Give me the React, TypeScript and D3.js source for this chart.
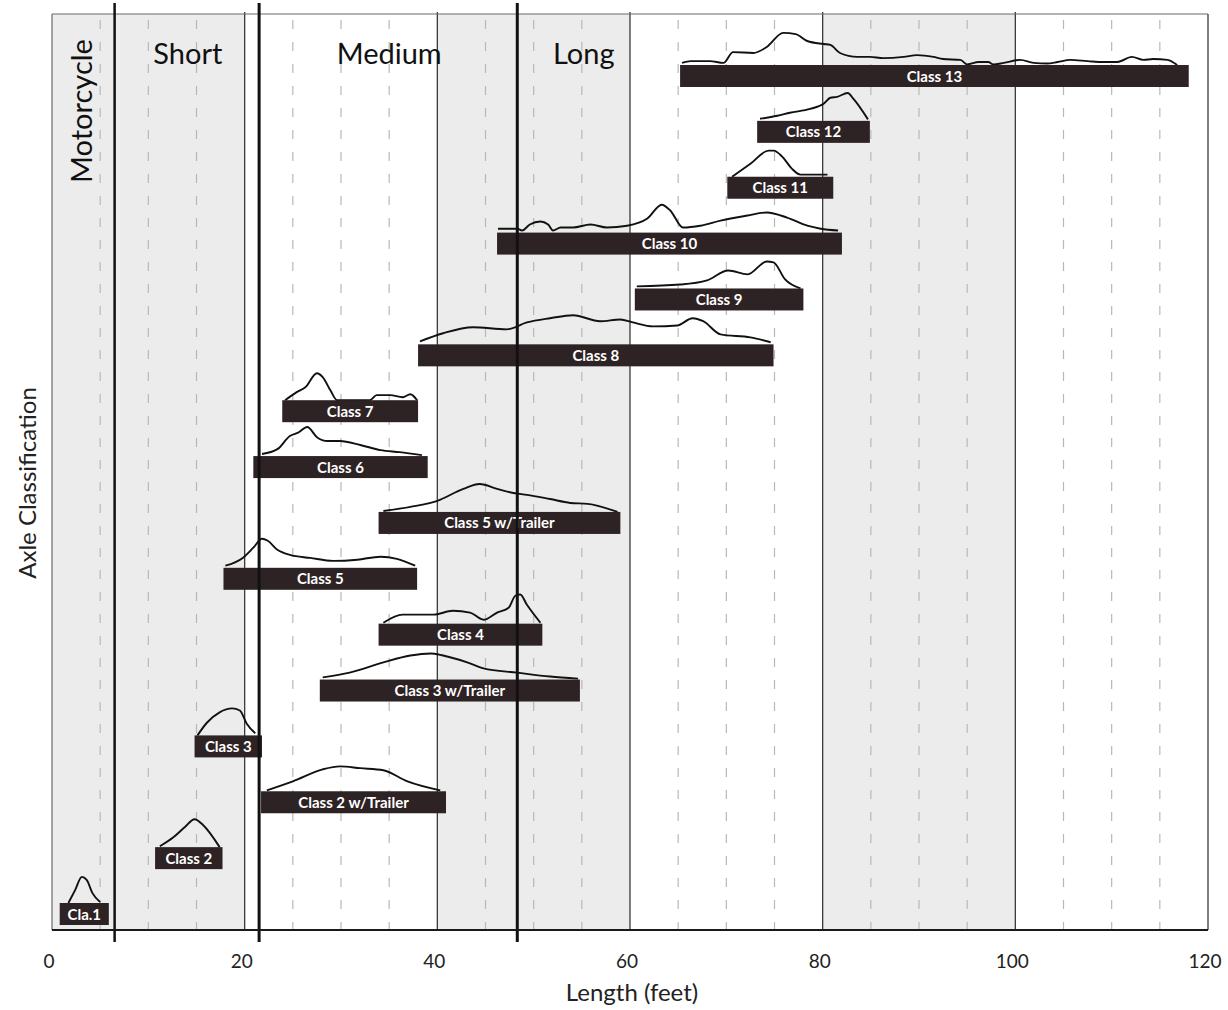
import React from "react";
import * as d3 from "d3";

// ---- data ----
const rowLabels = [
  "Class 13", "Class 12", "Class 11", "Class 10", "Class 9", "Class 8", "Class 7", "Class 6",
  "Class 5 w/Trailer", "Class 5", "Class 4", "Class 3 w/Trailer", "Class 3",
  "Class 2 w/Trailer", "Class 2", "Cla.1",
];

// length range (feet) of each class bar, same order as rowLabels
const rangeStart = [65.2, 73.2, 70.1, 46.2, 60.5, 38.0, 23.9, 20.9, 33.9, 17.8, 33.9, 27.8, 14.8, 21.7, 10.7, 0.8];
const rangeEnd = [118.0, 84.9, 81.1, 82.0, 78.0, 74.9, 38.0, 39.0, 59.0, 37.9, 50.9, 54.8, 21.8, 40.9, 17.7, 5.9];

// length distribution curves: [length ft, relative frequency]
const distClass13: [number, number][] = [[65.4,0.07],[66.3,0.13],[68.3,0.13],[69.7,0.07],[70.7,0.43],[72.8,0.4],[74.2,0.6],[75.9,1.07],[77.2,1.03],[78.4,0.8],[80.1,0.7],[80.8,0.67],[81.8,0.4],[83.6,0.27],[84.9,0.27],[86.3,0.23],[88.4,0.27],[89.8,0.33],[91.5,0.27],[92.5,0.2],[94.3,0.17],[95.0,0.02],[96.2,0.1],[97.2,0.1],[97.7,0.02],[98.8,0.07],[100.5,0.17],[101.9,0.07],[103.3,0.05],[104.4,0.1],[105.7,0.17],[107.5,0.13],[109.1,0.1],[110.6,0.1],[112.1,0.27],[113.3,0.17],[114.3,0.2],[115.8,0.17],[116.8,0]];
const distClass12: [number, number][] = [[73.5,0.07],[75.3,0.17],[76.6,0.27],[78.7,0.4],[80.1,0.57],[80.8,0.77],[81.5,0.8],[82.6,0.93],[83.2,0.73],[84.7,0.05]];
const distClass11: [number, number][] = [[70.6,0],[72.5,0.43],[74.4,0.87],[74.9,0.87],[75.8,0.67],[76.8,0.27],[77.7,0.07],[80.5,0.07]];
const distClass10: [number, number][] = [[46.3,0.13],[48.3,0.13],[48.8,0.07],[49.6,0.27],[50.7,0.37],[51.5,0.27],[52.0,0.07],[52.8,0.17],[54.1,0.17],[55.9,0.27],[57.6,0.17],[59.7,0.23],[61.8,0.47],[63.3,0.93],[64.2,0.73],[65.5,0.17],[67.3,0.23],[69.4,0.4],[72.2,0.57],[74.2,0.67],[76.3,0.5],[78.4,0.23],[79.8,0.13],[81.6,0.07]];
const distClass9: [number, number][] = [[60.7,0.07],[65.2,0.13],[68.0,0.27],[70.2,0.6],[72.2,0.47],[74.2,0.9],[74.9,0.87],[76.1,0.3],[77.7,0]];
const distClass8: [number, number][] = [[38.2,0.1],[40.6,0.37],[43.7,0.57],[47.2,0.5],[49.3,0.73],[51.7,0.87],[54.1,0.97],[56.9,0.77],[59.0,0.83],[60.3,0.73],[62.4,0.6],[64.9,0.63],[66.5,0.87],[67.6,0.77],[69.4,0.33],[72.5,0.23],[74.6,0.07]];
const distClass7: [number, number][] = [[24.2,0],[25.4,0.27],[26.3,0.43],[27.5,0.9],[28.1,0.77],[28.9,0.33],[29.6,0],[33.0,0],[33.7,0.17],[35.1,0.17],[36.4,0.1],[37.2,0.2],[37.9,0]];
const distClass6: [number, number][] = [[21.8,0.07],[23.4,0.23],[24.7,0.67],[25.5,0.77],[26.5,0.97],[27.5,0.63],[28.6,0.5],[29.9,0.5],[32.0,0.37],[34.1,0.2],[36.1,0.13],[38.4,0.03]];
const distClass5T: [number, number][] = [[34.4,0.03],[37.2,0.17],[40.0,0.37],[42.7,0.77],[44.4,0.93],[46.2,0.77],[47.9,0.63],[49.3,0.57],[51.7,0.43],[53.8,0.3],[55.6,0.27],[58.7,0]];
const distClass5: [number, number][] = [[18.0,0.07],[19.8,0.33],[20.9,0.67],[21.8,0.97],[22.4,0.9],[23.4,0.6],[24.7,0.43],[26.8,0.33],[29.2,0.23],[31.7,0.27],[34.1,0.37],[35.8,0.3],[37.7,0.07]];
const distClass4: [number, number][] = [[34.4,0.03],[36.4,0.3],[39.6,0.3],[41.6,0.43],[43.4,0.37],[44.8,0.13],[46.2,0.37],[47.4,0.53],[48.1,0.93],[48.6,0.97],[49.3,0.63],[50.7,0.03]];
const distClass3T: [number, number][] = [[28.1,0.07],[30.9,0.23],[34.4,0.57],[37.2,0.8],[39.3,0.87],[40.6,0.8],[43.1,0.57],[44.8,0.37],[48.3,0.23],[51.7,0.1],[54.6,0.03]];
const distClass3: [number, number][] = [[15.1,0],[16.1,0.43],[17.4,0.77],[18.7,0.9],[19.5,0.83],[20.2,0.4],[21.1,0.07]];
const distClass2T: [number, number][] = [[22.3,0.03],[25.0,0.33],[28.1,0.73],[29.9,0.83],[32.0,0.77],[34.4,0.7],[36.9,0.33],[40.3,0.03]];
const distClass2: [number, number][] = [[11.2,0.03],[12.6,0.33],[13.8,0.67],[14.8,0.93],[15.7,0.73],[17.4,0]];
const distClass1: [number, number][] = [[1.7,0],[2.4,0.43],[3.1,0.87],[3.6,0.77],[4.2,0.33],[5.0,0.03]];

const distributions = [
  distClass13, distClass12, distClass11, distClass10, distClass9, distClass8, distClass7, distClass6,
  distClass5T, distClass5, distClass4, distClass3T, distClass3, distClass2T, distClass2, distClass1,
];

// length-category boundaries (feet) and their labels
const categoryBounds = [6.5, 21.5, 48.3];
const categoryLabels = ["Short", "Medium", "Long"];
const categoryLabelAt = [14.1, 35.0, 55.2];
const motorcycleLabel = "Motorcycle";
const motorcycleLabelAt = 3.1;

const xTicks = [0, 20, 40, 60, 80, 100, 120];
const gridStep = 5;
const xTitle = "Length (feet)";
const yTitle = "Axle Classification";

// ---- layout ----
const W = 1228;
const H = 1010;
const left = 52, right = 1208, top = 14, bottom = 930;
const FONT = "Lato, 'Open Sans', sans-serif";

export default function App() {
  const x = d3.scaleLinear().domain([0, 120]).range([left, right]);
  const y = d3.scalePoint<string>().domain(rowLabels).range([76, 914]);
  const h = d3.scaleLinear().domain([0, 1]).range([0, 30]);
  const barH = 22;

  const bands = d3.range(0, 120, 40);
  const gridVals = d3.range(gridStep, 120, gridStep).filter((v) => v % 20 !== 0);
  const thinVals = d3.range(20, 120, 20);

  return (
    <svg width={W} height={H} style={{ position: "absolute", left: 0, top: 0, background: "#fff" }}>
      {/* shaded bands */}
      {bands.map((b) => (
        <rect key={"band" + b} x={x(b)} y={top} width={x(b + 20) - x(b)} height={bottom - top} fill="#ececec" />
      ))}
      {/* dashed grid */}
      {gridVals.map((v) => (
        <line key={"g" + v} x1={x(v)} x2={x(v)} y1={top + 6} y2={bottom} stroke="#b8b8b8" strokeWidth={1.2} strokeDasharray="9 13" />
      ))}
      {/* thin solid lines */}
      {thinVals.map((v) => (
        <line key={"t" + v} x1={x(v)} x2={x(v)} y1={top - 2} y2={bottom} stroke="#3a3a3a" strokeWidth={1.3} />
      ))}
      {/* frame */}
      <line x1={left} x2={right} y1={top} y2={top} stroke="#6a6a6a" strokeWidth={1.2} />
      <line x1={left} x2={left} y1={top} y2={bottom} stroke="#6a6a6a" strokeWidth={1.2} />
      <line x1={right} x2={right} y1={top} y2={bottom} stroke="#555" strokeWidth={1.5} />

      {/* category labels */}
      {categoryLabels.map((c, i) => (
        <text key={c} x={x(categoryLabelAt[i])} y={64} textAnchor="middle" fontFamily={FONT} fontSize={29} fill="#111">
          {c}
        </text>
      ))}
      <text
        transform={`translate(${x(motorcycleLabelAt) + 10},111) rotate(-90)`}
        textAnchor="middle"
        fontFamily={FONT}
        fontSize={29}
        fill="#111"
      >
        {motorcycleLabel}
      </text>

      {/* bars and distribution curves */}
      {rowLabels.map((r, i) => {
        const cy = y(r) as number;
        const barTop = cy - barH / 2;
        const line = d3
          .line<[number, number]>()
          .x((d) => x(d[0]))
          .y((d) => barTop - h(d[1]))
          .curve(d3.curveMonotoneX);
        return (
          <g key={r}>
            <path d={line(distributions[i]) || ""} fill="none" stroke="#111" strokeWidth={1.9} strokeLinejoin="round" />
            <rect x={x(rangeStart[i])} y={barTop} width={x(rangeEnd[i]) - x(rangeStart[i])} height={barH} fill="#2e2324" />
            <text
              x={(x(rangeStart[i]) + x(rangeEnd[i])) / 2}
              y={cy + 5.5}
              textAnchor="middle"
              fontFamily={FONT}
              fontWeight="bold"
              fontSize={15}
              fill="#fff"
            >
              {r}
            </text>
          </g>
        );
      })}

      {/* thick category boundaries */}
      {categoryBounds.map((v, i) => (
        <line key={"cb" + v} x1={x(v)} x2={x(v)} y1={3} y2={942} stroke="#111" strokeWidth={i === 0 ? 2.5 : 3} />
      ))}

      {/* x axis */}
      <line x1={left} x2={right} y1={bottom} y2={bottom} stroke="#1a1a1a" strokeWidth={2} />
      {xTicks.map((t) => (
        <text key={"xt" + t} x={x(t) - 3} y={968} textAnchor="middle" fontFamily={FONT} fontSize={19} fill="#222">
          {t}
        </text>
      ))}
      <text x={632} y={1001} textAnchor="middle" fontFamily={FONT} fontSize={24} fill="#222">
        {xTitle}
      </text>
      <text transform="translate(36,483) rotate(-90)" textAnchor="middle" fontFamily={FONT} fontSize={24} fill="#222">
        {yTitle}
      </text>
    </svg>
  );
}
